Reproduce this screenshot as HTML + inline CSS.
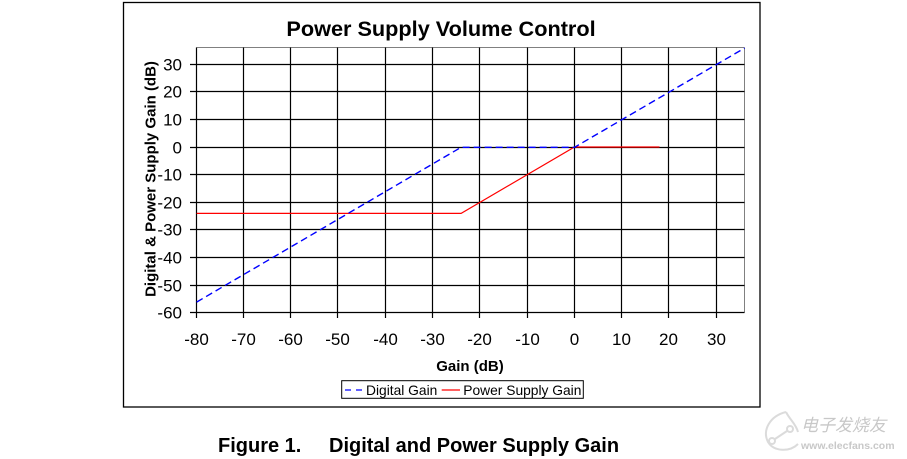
<!DOCTYPE html>
<html>
<head>
<meta charset="utf-8">
<style>
  html,body{margin:0;padding:0;background:#fff;}
  svg{display:block;}
  text{font-family:"Liberation Sans", Arial, sans-serif;}
</style>
</head>
<body>
<svg width="907" height="459" viewBox="0 0 907 459" xmlns="http://www.w3.org/2000/svg">
  <rect x="0" y="0" width="907" height="459" fill="#fff"/>
  <!-- chart frame -->
  <rect x="123.5" y="2.5" width="636.5" height="404.5" fill="none" stroke="#000" stroke-width="1.3"/>

  <!-- title -->
  <text x="441" y="36" font-size="21.7" font-weight="bold" text-anchor="middle">Power Supply Volume Control</text>

  <!-- plot area border (top/right gray) -->
  <line x1="196.5" y1="47.5" x2="744.5" y2="47.5" stroke="#808080" stroke-width="1"/>
  <line x1="744.5" y1="47.5" x2="744.5" y2="312.5" stroke="#808080" stroke-width="1"/>

  <!-- grid lines -->
  <g stroke="#000" stroke-width="1.2" fill="none">
    <line x1="243.5" y1="47.5" x2="243.5" y2="318"/>
    <line x1="290.5" y1="47.5" x2="290.5" y2="318"/>
    <line x1="337.5" y1="47.5" x2="337.5" y2="318"/>
    <line x1="385.5" y1="47.5" x2="385.5" y2="318"/>
    <line x1="432.5" y1="47.5" x2="432.5" y2="318"/>
    <line x1="479.5" y1="47.5" x2="479.5" y2="318"/>
    <line x1="527.5" y1="47.5" x2="527.5" y2="318"/>
    <line x1="574.5" y1="47.5" x2="574.5" y2="318"/>
    <line x1="621.5" y1="47.5" x2="621.5" y2="318"/>
    <line x1="668.5" y1="47.5" x2="668.5" y2="318"/>
    <line x1="716.5" y1="47.5" x2="716.5" y2="318"/>

    <line x1="190" y1="64.5" x2="744.5" y2="64.5"/>
    <line x1="190" y1="91.5" x2="744.5" y2="91.5"/>
    <line x1="190" y1="119.5" x2="744.5" y2="119.5"/>
    <line x1="190" y1="147.5" x2="744.5" y2="147.5"/>
    <line x1="190" y1="174.5" x2="744.5" y2="174.5"/>
    <line x1="190" y1="202.5" x2="744.5" y2="202.5"/>
    <line x1="190" y1="229.5" x2="744.5" y2="229.5"/>
    <line x1="190" y1="257.5" x2="744.5" y2="257.5"/>
    <line x1="190" y1="285.5" x2="744.5" y2="285.5"/>
    <!-- axes -->
    <line x1="190" y1="312.5" x2="744.5" y2="312.5"/>
    <line x1="196.5" y1="47.5" x2="196.5" y2="318"/>
  </g>

  <!-- series -->
  <polyline points="196.6,213.4 461.1,213.4 574.5,147 659.5,147" fill="none" stroke="#ff0000" stroke-width="1.2"/>
  <polyline points="196.6,302.1 461.1,147.3 574.5,147.3 744.6,48.1" fill="none" stroke="#0000ff" stroke-width="1.4" stroke-dasharray="7,4"/>

  <!-- y tick labels -->
  <g font-size="17" text-anchor="end" fill="#000">
    <text x="182" y="70.7">30</text>
    <text x="182" y="97.7">20</text>
    <text x="182" y="125.7">10</text>
    <text x="182" y="153.7">0</text>
    <text x="182" y="180.7">-10</text>
    <text x="182" y="208.7">-20</text>
    <text x="182" y="235.7">-30</text>
    <text x="182" y="263.7">-40</text>
    <text x="182" y="291.7">-50</text>
    <text x="182" y="318.7">-60</text>
  </g>

  <!-- x tick labels -->
  <g font-size="17" text-anchor="middle" fill="#000">
    <text x="196.5" y="345">-80</text>
    <text x="243.5" y="345">-70</text>
    <text x="290.5" y="345">-60</text>
    <text x="337.5" y="345">-50</text>
    <text x="385.5" y="345">-40</text>
    <text x="432.5" y="345">-30</text>
    <text x="479.5" y="345">-20</text>
    <text x="527.5" y="345">-10</text>
    <text x="574.5" y="345">0</text>
    <text x="621.5" y="345">10</text>
    <text x="668.5" y="345">20</text>
    <text x="716.5" y="345">30</text>
  </g>

  <!-- axis titles -->
  <text x="470" y="371" font-size="15" font-weight="bold" text-anchor="middle">Gain (dB)</text>
  <text transform="translate(155.5,179) rotate(-90)" font-size="15" font-weight="bold" text-anchor="middle">Digital &amp; Power Supply Gain (dB)</text>

  <!-- legend -->
  <rect x="341.7" y="380.7" width="241.6" height="17.6" fill="#fff" stroke="#000" stroke-width="1"/>
  <line x1="345" y1="390" x2="363.3" y2="390" stroke="#0000ff" stroke-width="1.3" stroke-dasharray="6,5"/>
  <text x="366" y="395" font-size="13.8">Digital Gain</text>
  <line x1="441.7" y1="390" x2="460" y2="390" stroke="#ff0000" stroke-width="1.2"/>
  <text x="463.3" y="395" font-size="13.8">Power Supply Gain</text>

  <!-- caption -->
  <text x="218" y="452" font-size="20" font-weight="bold">Figure 1.</text>
  <text x="329" y="452" font-size="20" font-weight="bold">Digital and Power Supply Gain</text>

  <!-- watermark -->
  <g opacity="0.35" fill="none" stroke="#999" stroke-width="2">
    <path d="M786,412 C770,416 762,430 768,442 C774,452 790,452 798,444"/>
    <path d="M786,412 C790,420 796,424 798,432"/>
    <circle cx="772" cy="441" r="3"/>
    <circle cx="790" cy="429" r="3"/>
    <line x1="775" y1="439" x2="787" y2="431"/>
  </g>
  <text x="801" y="431" font-size="17" fill="#c8c8c8" font-style="italic" font-family="'Liberation Sans','Noto Sans CJK SC',sans-serif">电子发烧友</text>
  <text x="801" y="449" font-size="10.5" fill="#c8c8c8" font-weight="bold">www.elecfans.com</text>
</svg>
</body>
</html>
